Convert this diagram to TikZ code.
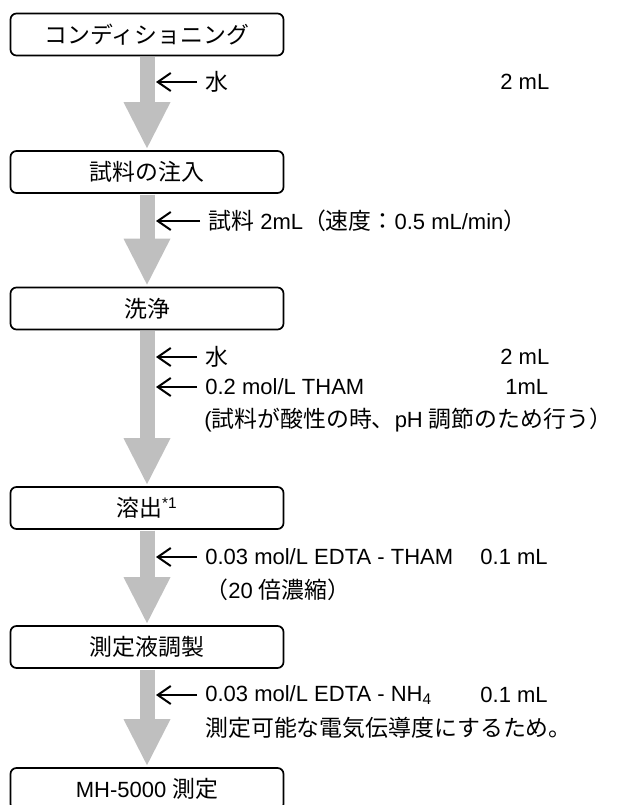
\documentclass[tikz,border=0pt]{standalone}
\usepackage{fontspec}
\setmainfont{Liberation Sans}
\newfontfamily\jp[Scale=1.04]{Noto Sans CJK JP}
\usetikzlibrary{arrows.meta}

\begin{document}
\begin{tikzpicture}[x=0.5pt, y=-0.5pt, every node/.style={font=\fontsize{11}{13}\selectfont},
  stepbox/.style={draw, line width=0.85pt, rounded corners=3pt, minimum width=136.5pt, minimum height=21pt, inner sep=0pt},
  flow/.style={line width=7.5pt, draw=gray!50, -{Triangle[length=23pt, width=23.5pt, line width=0pt]}, shorten <=0.4pt, shorten >=1pt},
  feed/.style={line width=1pt, -{Straight Barb[length=6.5pt, width=9pt]}, shorten <=4pt},
  note/.style={anchor=west, inner sep=0pt}]
\useasboundingbox (0,0) rectangle (623,805);
% steps
\node[stepbox] (cond) at (147,34.5) {\jp コンディショニング};
\node[stepbox] (inj) at (147,172) {\jp 試料の注入};
\node[stepbox] (wash) at (147,308.5) {\jp 洗浄};
\node[stepbox] (elu) at (147,508) {{\jp 溶出}\textsuperscript{*1}};
\node[stepbox] (prep) at (147,647) {\jp 測定液調製};
\node[stepbox] (meas) at (147,789) {MH-5000 {\jp 測定}};
% flow arrows
\draw[flow] (cond) -- (inj);
\draw[flow] (inj) -- (wash);
\draw[flow] (wash) -- (elu);
\draw[flow] (elu) -- (prep);
\draw[flow] (prep) -- (meas);
% reagents
\coordinate (wA) at (156,82);
\coordinate (wB) at (156,221);
\coordinate (wC) at (156,357);
\coordinate (wD) at (156,387);
\coordinate (wF) at (156,557);
\coordinate (wH) at (156,695);
\node[note] (tA) at (205,82) {\jp 水};
\node[note] (qA) at (500,82) {2 mL};
\node[note] (tB) at (208,221) {{\jp 試料} 2mL{\jp （速度：}0.5 mL/min{\jp ）}};
\node[note] (tC) at (205,357) {\jp 水};
\node[note] (qC) at (500,357) {2 mL};
\node[note] (tD) at (205,387) {0.2 mol/L THAM};
\node[note] (qD) at (505,387) {1mL};
\node[note] (tE) at (204,420) {({\jp 試料が酸性の時、}pH {\jp 調節のため行う）}};
\node[note] (tF) at (205,557) {0.03 mol/L EDTA - THAM};
\node[note] (qF) at (480,557) {0.1 mL};
\node[note] (tG) at (205,590) {{\jp （}20 {\jp 倍濃縮）}};
\node[note] (tH) at (205,695) {0.03 mol/L EDTA - NH\textsubscript{4}};
\node[note] (qH) at (480,695) {0.1 mL};
\node[note] (tI) at (205,728) {\jp 測定可能な電気伝導度にするため。};
\draw[feed] (tA) -- (wA);
\draw[feed] (tB) -- (wB);
\draw[feed] (tC) -- (wC);
\draw[feed] (tD) -- (wD);
\draw[feed] (tF) -- (wF);
\draw[feed] (tH) -- (wH);
\end{tikzpicture}
\end{document}
